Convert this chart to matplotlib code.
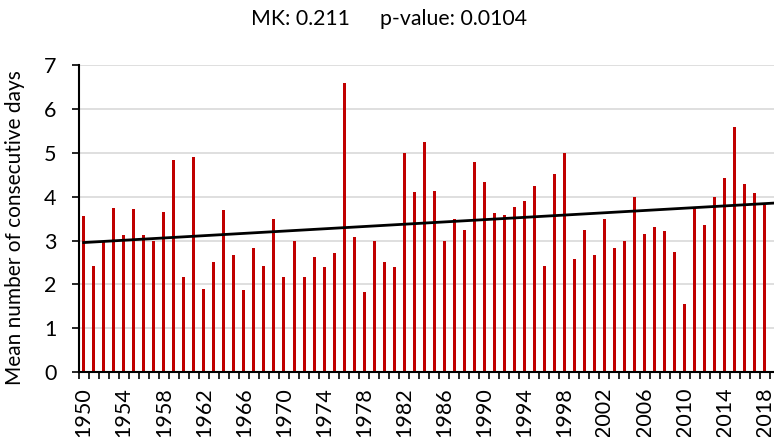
import numpy as np
import matplotlib
matplotlib.use("Agg")
import matplotlib.pyplot as plt

plt.rcParams["font.family"] = ["Lato", "DejaVu Sans"]

# Annual mean number of consecutive days, 1950-2018
years = list(range(1950, 2019))
mean_days = [
    3.55, 2.41, 3.00, 3.74, 3.12, 3.71, 3.12, 3.00, 3.66, 4.85,
    2.16, 4.90, 1.90, 2.50, 3.69, 2.67, 1.87, 2.83, 2.41, 3.49,
    2.16, 3.00, 2.16, 2.62, 2.39, 2.71, 6.60, 3.09, 1.83, 3.00,
    2.50, 2.39, 4.99, 4.10, 5.25, 4.14, 3.00, 3.50, 3.25, 4.80,
    4.33, 3.63, 3.58, 3.77, 3.90, 4.24, 2.42, 4.53, 4.99, 2.58,
    3.25, 2.67, 3.49, 2.83, 3.00, 3.99, 3.14, 3.31, 3.21, 2.75,
    1.55, 3.75, 3.36, 3.99, 4.42, 5.59, 4.29, 4.08, 3.82,
]
mk_stat = 0.211
p_value = 0.0104

x = np.arange(len(years))
y = np.array(mean_days)

fig = plt.figure(figsize=(7.74, 4.37), dpi=100)
ax = fig.add_axes([78.7 / 774, 1 - 372 / 437, 1 - 78.7 / 774, (372 - 65.3) / 437])

ax.bar(x, y, width=0.3, color="#C00000", zorder=2)

# Sen's slope, line passing through the means
i, j = np.triu_indices(len(x), k=1)
slope = np.median((y[j] - y[i]) / (x[j] - x[i]))
intercept = y.mean() - slope * x.mean()
xl = np.array([0, 68.93])
ax.plot(xl, slope * xl + intercept, color="black", lw=2, zorder=3)

ax.set_xlim(-0.5, 68.93)
ax.set_ylim(0, 7)
ax.set_yticks(range(8))
ax.yaxis.grid(True, color="#D9D9D9", lw=1.2, zorder=0)
ax.set_axisbelow(True)

ax.set_xticks(x[::4])
ax.set_xticklabels([str(yr) for yr in years[::4]], rotation=90)
ax.set_xticks(np.arange(-0.5, len(years), 1), minor=True)
ax.tick_params(axis="x", which="major", length=0, pad=11, labelsize=15.5)
ax.tick_params(axis="x", which="minor", length=5, width=1.2, direction="out")
ax.tick_params(axis="y", length=5, width=1.2, labelsize=15.5, pad=11)

for side in ("top", "right"):
    ax.spines[side].set_visible(False)
for side in ("left", "bottom"):
    ax.spines[side].set_linewidth(1.5)

ax.set_ylabel("Mean number of consecutive days", fontsize=15)
ax.yaxis.set_label_coords(-0.077, 0.47)

title_y = 1 - 19 / 437
fig.text(350 / 774, title_y, f"MK: {mk_stat}",
         ha="right", va="center", fontsize=15.3)
fig.text(380 / 774, title_y, f"p-value: {p_value}",
         ha="left", va="center", fontsize=15.3)

fig.savefig("out.png", dpi=100)
